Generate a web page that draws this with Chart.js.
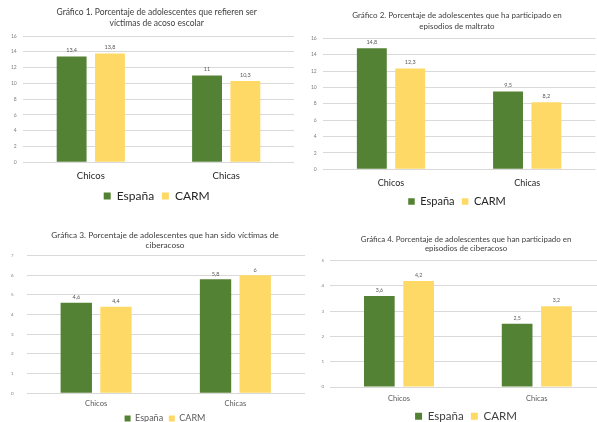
<!DOCTYPE html>
<html><head><meta charset="utf-8">
<script src="https://cdn.jsdelivr.net/npm/chart.js@4.4.1/dist/chart.umd.min.js"></script>
<style>
html,body{margin:0;padding:0;background:#fff;width:597px;height:422px;overflow:hidden;position:relative}
canvas{position:absolute}
</style></head><body>
<canvas id="c1" width="300" height="212" style="left:0;top:0"></canvas>
<canvas id="c2" width="300" height="217" style="left:300px;top:0"></canvas>
<canvas id="c3" width="310" height="218" style="left:0;top:215px"></canvas>
<canvas id="c4" width="310" height="217" style="left:300px;top:215px"></canvas>
<script>
// ---- data ----
const categorias = ['Chicos', 'Chicas'];
const series = ['España', 'CARM'];

const g1Titulo = ['Gráfico 1. Porcentaje de adolescentes que refieren ser', 'víctimas de acoso escolar'];
const g1Espana = [13.4, 11];
const g1Carm = [13.8, 10.3];
const g1Ticks = [0, 2, 4, 6, 8, 10, 12, 14, 16];

const g2Titulo = ['Gráfico 2. Porcentaje de adolescentes que ha participado en', 'episodios de maltrato'];
const g2Espana = [14.8, 9.5];
const g2Carm = [12.3, 8.2];
const g2Ticks = [0, 2, 4, 6, 8, 10, 12, 14, 16];

const g3Titulo = ['Gráfica 3. Porcentaje de adolescentes que han sido víctimas de', 'ciberacoso'];
const g3Espana = [4.6, 5.8];
const g3Carm = [4.4, 6];
const g3Ticks = [0, 1, 2, 3, 4, 5, 6, 7];

const g4Titulo = ['Gráfica 4. Porcentaje de adolescentes que han participado en', 'episodios de ciberacoso'];
const g4Espana = [3.6, 2.5];
const g4Carm = [4.2, 3.2];
const g4Ticks = [0, 1, 2, 3, 4, 5];

// ---- styles ----
const VERDE = '#548235';
const AMARILLO = '#FFD966';
const FUENTE = 'Lato';

const etiquetas = {
  id: 'etiquetas',
  afterDatasetsDraw(chart, args, opts) {
    const ctx = chart.ctx;
    ctx.save();
    ctx.font = opts.size + 'px ' + FUENTE;
    ctx.fillStyle = opts.color;
    ctx.textAlign = 'center';
    ctx.textBaseline = 'middle';
    chart.data.datasets.forEach((ds, i) => {
      chart.getDatasetMeta(i).data.forEach((bar, j) => {
        ctx.fillText(String(ds.data[j]).replace('.', ','), bar.x, bar.y - opts.offset);
      });
    });
    ctx.restore();
  }
};

function anchoMax(valores, size) {
  const c = document.createElement('canvas').getContext('2d');
  c.font = size + 'px ' + FUENTE;
  return Math.max(...valores.map(v => c.measureText(String(v)).width));
}

function grafico(id, p) {
  const ancho = anchoMax(p.ticks, p.ySize);
  const altoX = p.catPad + p.catSize * 1.2 + 0.5;
  new Chart(document.getElementById(id), {
    type: 'bar',
    data: {
      labels: categorias,
      datasets: [
        {label: series[0], data: p.espana, backgroundColor: VERDE, categoryPercentage: p.cat, barPercentage: p.bar},
        {label: series[1], data: p.carm, backgroundColor: AMARILLO, categoryPercentage: p.cat, barPercentage: p.bar}
      ]
    },
    options: {
      responsive: false,
      animation: false,
      layout: {padding: {left: p.L, right: p.R, top: 0, bottom: 0}},
      plugins: {
        title: {display: true, text: p.titulo, color: '#404040',
          font: {family: FUENTE, size: p.tSize, lineHeight: p.tLh, weight: 'normal'},
          padding: {top: p.tTop, bottom: p.tBot}},
        legend: {position: 'bottom',
          labels: {boxWidth: p.box, boxHeight: p.box, padding: p.legPad, color: p.legColor,
            font: {family: FUENTE, size: p.legSize}}},
        tooltip: {enabled: false},
        etiquetas: {size: p.valSize, color: '#595959', offset: p.valOff}
      },
      scales: {
        x: {
          grid: {display: false, drawTicks: false}, border: {display: false},
          ticks: {color: p.catColor, font: {family: FUENTE, size: p.catSize}, padding: p.catPad},
          afterFit(s) { s.height = altoX; }
        },
        y: {
          min: p.ticks[0], max: p.ticks[p.ticks.length - 1],
          afterBuildTicks(s) { s.ticks = p.ticks.map(v => ({value: v})); },
          grid: {color: '#d9d9d9', drawTicks: false, lineWidth: 1},
          border: {display: false},
          ticks: {color: '#7f7f7f', font: {family: FUENTE, size: p.ySize},
            mirror: true, crossAlign: 'far', padding: -(p.yPad + ancho)},
          afterFit(s) { s.width = p.yW; }
        }
      }
    },
    plugins: [etiquetas]
  });
}

grafico('c1', {titulo: g1Titulo, espana: g1Espana, carm: g1Carm, ticks: g1Ticks,
  L: 19.5, R: 6.1, yW: 3.6, tSize: 8.5, tLh: 1.25, tTop: 7.3, tBot: 7.5,
  legSize: 12, legPad: 7.8, box: 7, legColor: '#262626', catSize: 9.5, catPad: 8, catColor: '#262626',
  ySize: 5, yPad: 6.4, valSize: 5.5, valOff: 6, cat: 0.566, bar: 0.78});

grafico('c2', {titulo: g2Titulo, espana: g2Espana, carm: g2Carm, ticks: g2Ticks,
  L: 18.7, R: 4.7, yW: 4.2, tSize: 8, tLh: 1.375, tTop: 10.2, tBot: 6.1,
  legSize: 11, legPad: 7.4, box: 6.5, legColor: '#262626', catSize: 9, catPad: 8, catColor: '#262626',
  ySize: 5, yPad: 6.2, valSize: 5.5, valOff: 6.3, cat: 0.563, bar: 0.78});

grafico('c3', {titulo: g3Titulo, espana: g3Espana, carm: g3Carm, ticks: g3Ticks,
  L: 25, R: 5, yW: 1.5, tSize: 8.3, tLh: 1.2, tTop: 15, tBot: 5.7,
  legSize: 9, legPad: 5.7, box: 6, legColor: '#595959', catSize: 7.5, catPad: 5.5, catColor: '#595959',
  ySize: 4.5, yPad: 13, valSize: 5.5, valOff: 5.5, cat: 0.57, bar: 0.79});

grafico('c4', {titulo: g4Titulo, espana: g4Espana, carm: g4Carm, ticks: g4Ticks,
  L: 26.3, R: 4.3, yW: 3.8, tSize: 7.9, tLh: 1.18, tTop: 19.35, tBot: 7.75,
  legSize: 11.5, legPad: 7.2, box: 7, legColor: '#404040', catSize: 7.5, catPad: 6.8, catColor: '#595959',
  ySize: 4.5, yPad: 6, valSize: 5.2, valOff: 5.5, cat: 0.571, bar: 0.78});
</script>
</body></html>
